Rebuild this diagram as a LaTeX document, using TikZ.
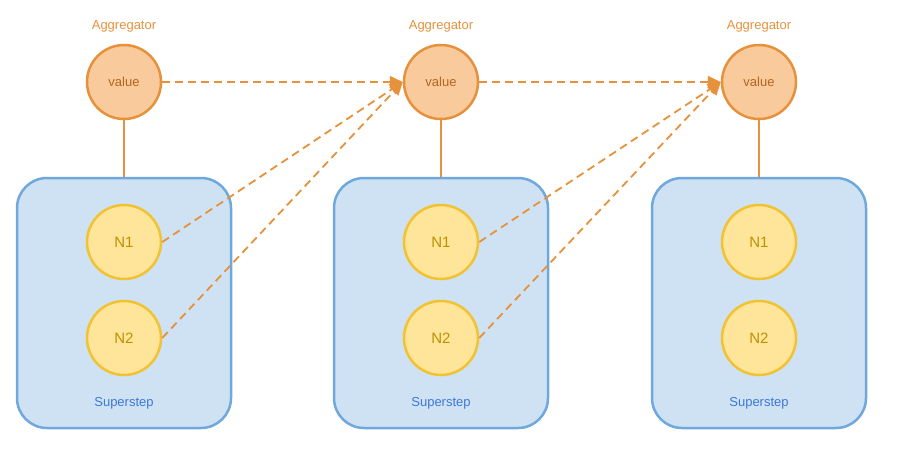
\documentclass[tikz,border=0pt]{standalone}
\usepackage{fontspec}
\setmainfont{Liberation Sans}
\usetikzlibrary{arrows.meta}
\definecolor{aggstroke}{HTML}{E6913B}
\definecolor{aggfill}{HTML}{F9CB9C}
\definecolor{aggtext}{HTML}{B4651E}
\definecolor{nstroke}{HTML}{F1C232}
\definecolor{nfill}{HTML}{FFE599}
\definecolor{ntext}{HTML}{BF9000}
\definecolor{bstroke}{HTML}{6FA8DC}
\definecolor{bfill}{HTML}{CFE2F3}
\definecolor{btext}{HTML}{3C78D8}
\tikzset{
  aggnode/.style={circle,draw=aggstroke,fill=aggfill,line width=2.5pt,minimum size=74pt,inner sep=0pt,text=aggtext,font=\fontsize{13}{15}\selectfont},
  nnode/.style={circle,draw=nstroke,fill=nfill,line width=2.5pt,minimum size=74pt,inner sep=0pt,text=ntext,font=\fontsize{15}{17}\selectfont},
  boxnode/.style={draw=bstroke,fill=bfill,line width=2.5pt,rounded corners=30pt,minimum width=214pt,minimum height=250pt,inner sep=0pt},
  agglabel/.style={text=aggstroke,font=\fontsize{13}{15}\selectfont,inner sep=0pt},
  boxlabel/.style={text=btext,font=\fontsize{13}{15}\selectfont,inner sep=0pt},
  flow/.style={draw=aggstroke,line width=1.8pt,dash pattern=on 8pt off 5pt,-{Triangle[length=13pt,width=12pt]}},
  link/.style={draw=aggstroke,line width=1.6pt},
}
\begin{document}
\begin{tikzpicture}[x=1pt,y=-1pt]
\useasboundingbox (0,0) rectangle (903,461);
\foreach \i/\dx in {1/0,2/317,3/635}{
  \node[boxnode] (box\i) at (124+\dx,303) {};
  \node[aggnode] (v\i) at (124+\dx,82) {value};
  \node[agglabel] (a\i) at (124+\dx,26) {Aggregator};
  \node[nnode] (n1\i) at (124+\dx,242) {N1};
  \node[nnode] (n2\i) at (124+\dx,338) {N2};
  \node[boxlabel] (s\i) at (124+\dx,403) {Superstep};
  \draw[link] (v\i.south) -- (box\i.north);
}
\draw[flow] (v1.east) -- (v2.west);
\draw[flow] (v2.east) -- (v3.west);
\draw[flow] (n11.east) -- (v2.west);
\draw[flow] (n21.east) -- (v2.west);
\draw[flow] (n12.east) -- (v3.west);
\draw[flow] (n22.east) -- (v3.west);
\end{tikzpicture}
\end{document}
